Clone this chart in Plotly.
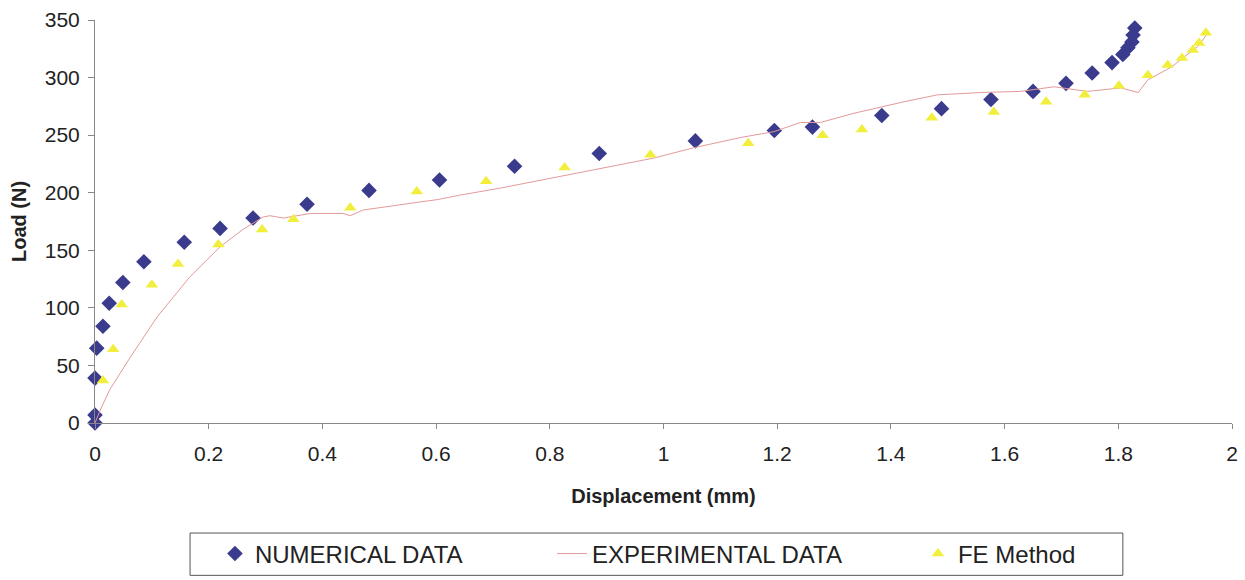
import plotly.graph_objects as go

# NUMERICAL DATA (diamonds)
num_x = [0, 0, 0, 0.003, 0.014, 0.025, 0.049, 0.086, 0.157, 0.22, 0.278, 0.373, 0.482,
         0.606, 0.738, 0.887, 1.056, 1.195, 1.262, 1.384, 1.489, 1.576, 1.650, 1.708,
         1.754, 1.789, 1.808, 1.817, 1.824, 1.826, 1.829, 1.833]
num_y = [0, 7, 39, 65, 84, 104, 122, 140, 157, 169, 178, 190, 202,
         211, 223, 234, 245, 254, 257, 267, 273, 281, 288, 295,
         304, 313, 320, 326, 331, 337, 343, 351]

# EXPERIMENTAL DATA (thin line)
exp_x = [0, 0.009, 0.026, 0.062, 0.109, 0.167, 0.22, 0.26, 0.296, 0.308, 0.331, 0.379,
         0.437, 0.449, 0.472, 0.519, 0.572, 0.602, 0.643, 0.713, 0.806, 0.901, 0.982,
         1.053, 1.136, 1.194, 1.241, 1.276, 1.335, 1.423, 1.482, 1.558, 1.628, 1.687,
         1.746, 1.805, 1.835, 1.852, 1.893, 1.916, 1.94, 1.958]
exp_y = [0, 11, 29, 57, 92, 127, 153, 168, 179, 180, 178, 182,
         182, 180, 185, 188, 192, 194, 198, 204, 213, 222, 230,
         239, 248, 253, 261, 261, 269, 279, 285, 287, 288, 292,
         288, 291, 287, 298, 309, 318, 327, 339]

# FE Method (triangles)
fe_x = [0.014, 0.032, 0.047, 0.1, 0.146, 0.217, 0.294, 0.349, 0.449, 0.566, 0.688, 0.826,
        0.977, 1.149, 1.28, 1.349, 1.472, 1.581, 1.673, 1.741, 1.801, 1.852, 1.887,
        1.912, 1.931, 1.942, 1.954]
fe_y = [37, 64, 103, 120, 138, 155, 168, 177, 187, 201, 210, 222,
        233, 243, 250, 255, 265, 270, 279, 285, 293, 302, 311,
        317, 324, 330, 339]

x_ticks = [0, 0.2, 0.4, 0.6, 0.8, 1, 1.2, 1.4, 1.6, 1.8, 2]
x_labels = ["0", "0.2", "0.4", "0.6", "0.8", "1", "1.2", "1.4", "1.6", "1.8", "2"]
y_ticks = [0, 50, 100, 150, 200, 250, 300, 350]

FONT = "Liberation Sans, Arial, sans-serif"
TXT = "#222222"

fig = go.Figure()
fig.add_trace(go.Scatter(
    x=num_x, y=num_y, mode="markers", name="NUMERICAL DATA", cliponaxis=False,
    marker=dict(symbol="diamond", size=12, color="#3b3b8e", line=dict(width=0)),
    legend="legend",
))
fig.add_trace(go.Scatter(
    x=exp_x, y=exp_y, mode="lines", name="EXPERIMENTAL DATA",
    line=dict(color="#e39a9a", width=1),
    legend="legend2",
))
fig.add_trace(go.Scatter(
    x=fe_x, y=fe_y, mode="markers", name="FE Method", cliponaxis=False,
    marker=dict(symbol="triangle-up", size=11, color="#f2ee3c", line=dict(width=0)),
    legend="legend3",
))

leg_common = dict(orientation="h", y=-0.325, yanchor="middle", xanchor="left",
                  bgcolor="rgba(0,0,0,0)", borderwidth=0,
                  font=dict(family=FONT, size=24, color=TXT))

fig.update_layout(
    width=1245, height=580,
    margin=dict(l=95, r=13, t=20, b=157, autoexpand=False),
    paper_bgcolor="white", plot_bgcolor="white",
    font=dict(family=FONT, color=TXT),
    showlegend=True,
    legend=dict(x=0.1055, **leg_common),
    legend2=dict(x=0.402, **leg_common),
    legend3=dict(x=0.7238, **leg_common),
    shapes=[dict(type="rect", xref="paper", yref="paper",
                 x0=0.0836, x1=0.904, y0=-0.273, y1=-0.378,
                 line=dict(color="#555555", width=1), fillcolor="rgba(0,0,0,0)",
                 layer="below")],
    xaxis=dict(
        range=[0, 2], tickvals=x_ticks, ticktext=x_labels,
        showgrid=False, zeroline=False, showline=True, linecolor="#888888", linewidth=1,
        ticks="outside", ticklen=5, tickcolor="#888888", ticklabelstandoff=7,
        tickfont=dict(family=FONT, size=21, color=TXT),
        title=dict(text="<b>Displacement (mm)</b>", font=dict(family=FONT, size=20, color=TXT), standoff=24),
    ),
    yaxis=dict(
        range=[0, 350], tickvals=y_ticks,
        showgrid=False, zeroline=False, showline=True, linecolor="#888888", linewidth=1,
        ticks="outside", ticklen=6, tickcolor="#888888", ticklabelstandoff=4,
        tickfont=dict(family=FONT, size=21, color=TXT),
        title=dict(text="<b>Load (N)</b>", font=dict(family=FONT, size=20, color=TXT), standoff=12),
    ),
)

fig.write_html("out.html")
